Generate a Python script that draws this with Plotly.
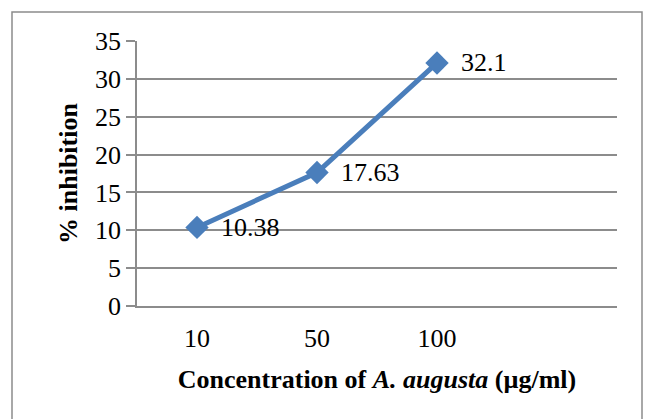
import plotly.graph_objects as go

categories = ["10", "50", "100"]
all_categories = ["10", "50", "100", " "]
inhibition = [10.38, 17.63, 32.1]
label_texts = ["10.38", "17.63", "32.1"]
y_ticks = [0, 5, 10, 15, 20, 25, 30, 35]

W, H = 655, 419
L, R, T, B = 137, 38, 41, 113
pw, ph = W - L - R, H - T - B

LINE = "#4A7EBB"
GRID = "#8C8C8C"
FONT = "Liberation Serif, Times New Roman, serif"
FS = 26

fig = go.Figure()
fig.add_trace(go.Scatter(
    x=categories, y=inhibition, mode="lines+markers",
    line=dict(color=LINE, width=5),
    marker=dict(symbol="diamond", size=18, color=LINE),
    showlegend=False, hoverinfo="skip",
))

for c, v, t in zip(categories, inhibition, label_texts):
    fig.add_annotation(x=all_categories.index(c), y=v, text=t, showarrow=False,
                       xanchor="left", yanchor="middle", xshift=22,
                       font=dict(family=FONT, size=FS, color="black"))

def px_x(p):
    return (p - L) / pw

def px_y(p):
    return (H - B - p) / ph

fig.add_shape(type="rect", xref="paper", yref="paper",
              x0=px_x(12), x1=px_x(642), y0=px_y(440), y1=px_y(12),
              line=dict(color=GRID, width=1.5), fillcolor="rgba(0,0,0,0)", layer="below")

fig.update_layout(
    width=W, height=H,
    margin=dict(l=L, r=R, t=T, b=B),
    paper_bgcolor="white", plot_bgcolor="white",
    font=dict(family=FONT, size=FS, color="black"),
    xaxis=dict(
        type="category", categoryorder="array", categoryarray=all_categories,
        range=[-0.5, 3.5], showgrid=False, ticks="",
        showline=True, linecolor=GRID, linewidth=1.5,
        tickfont=dict(family=FONT, size=FS), ticklabelstandoff=8,
        title=dict(text="<b>Concentration of <i>A. augusta</i> (µg/ml)</b>",
                   font=dict(family=FONT, size=FS), standoff=18),
    ),
    yaxis=dict(
        range=[0, 35], tickvals=y_ticks, showgrid=True, gridcolor=GRID, gridwidth=1.5,
        showline=True, linecolor=GRID, linewidth=1.5,
        ticks="outside", ticklen=9, tickcolor=GRID, tickwidth=1.5,
        zeroline=False,
        tickfont=dict(family=FONT, size=FS),
        title=dict(text="<b>% inhibition</b>", font=dict(family=FONT, size=FS), standoff=10),
    ),
)

fig.write_html("out.html", config={"displayModeBar": False},
               post_script="document.body.style.margin='0';")
